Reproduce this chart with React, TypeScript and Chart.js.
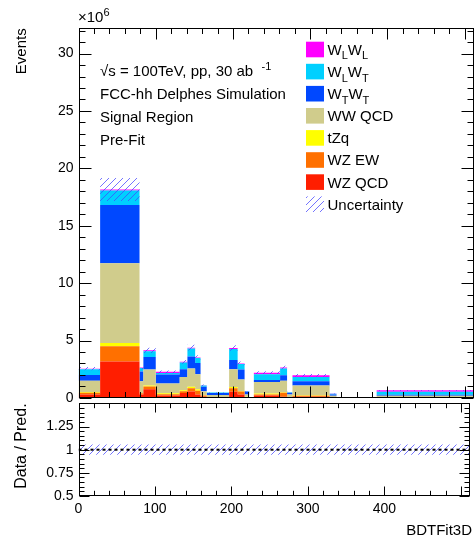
import React, { useEffect, useRef } from 'react';
import { Chart, registerables } from 'chart.js';

Chart.register(...registerables);

const FONT = "'Liberation Sans', Arial, Helvetica, sans-serif";

// ---------------- data (events in units of 10^6) ----------------
const binEdges = [0, 28, 79, 84, 100, 131, 141, 151, 158, 166, 195, 206, 215, 221, 227, 261, 270, 277, 325, 334, 386, 512];
const wzQCD = [0.30, 3.17, 0.30, 0.75, 0.20, 0.42, 0.55, 0.30, 0.10, 0.02, 0.54, 0.30, 0.04, 0.00, 0.20, 0.10, 0.03, 0.10, 0.01, 0.00, 0.00];
const wzEW = [0.14, 1.33, 0.10, 0.25, 0.12, 0.15, 0.30, 0.33, 0.10, 0.02, 0.30, 0.25, 0.04, 0.00, 0.10, 0.35, 0.03, 0.08, 0.01, 0.00, 0.01];
const tZq = [0.08, 0.28, 0.03, 0.08, 0.08, 0.10, 0.12, 0.12, 0.03, 0.01, 0.11, 0.05, 0.02, 0.00, 0.08, 0.05, 0.01, 0.05, 0.01, 0.02, 0.04];
const wwQCD = [0.98, 6.95, 1.02, 1.39, 0.85, 1.16, 1.60, 1.30, 0.35, 0.20, 1.55, 1.00, 0.20, 0.00, 1.00, 1.00, 0.23, 0.85, 0.15, 0.03, 0.13];
const wTwT = [0.50, 5.07, 0.85, 1.10, 0.78, 0.67, 1.03, 1.00, 0.39, 0.17, 0.80, 0.87, 0.26, 0.00, 0.17, 0.48, 0.15, 0.37, 0.12, 0.00, 0.10];
const wLwT = [0.50, 1.27, 0.30, 0.50, 0.15, 0.58, 0.70, 0.42, 0.10, 0.04, 0.97, 0.48, 0.01, 0.00, 0.50, 0.58, 0.04, 0.38, 0.06, 0.00, 0.25];
const wLwL = [0.05, 0.08, 0.05, 0.08, 0.09, 0.06, 0.08, 0.06, 0.03, 0.01, 0.08, 0.05, 0.01, 0.00, 0.15, 0.09, 0.01, 0.15, 0.02, 0.00, 0.13];
// relative uncertainty of the prediction per bin
const relUnc = [0.055, 0.055, 0.055, 0.055, 0.055, 0.055, 0.055, 0.055, 0.055, 0.055, 0.055, 0.055, 0.055, 0.055, 0.055, 0.055, 0.055, 0.055, 0.055, 0.055, 0.055];

const xMin = 0;
const xMax = 512;
const yMainMax = 32.2;
const yMainTicks = [0, 5, 10, 15, 20, 25, 30];
const ratioMin = 0.5;
const ratioMax = 1.5;
const ratioTickLabels = ['0.5', '0.75', '1', '1.25'];
const xTickLabels = ['0', '100', '200', '300', '400', '500'];

const annotationLines = ['FCC-hh Delphes Simulation', 'Signal Region', 'Pre-Fit'];

type Part = { t: string; s?: 'sub' | 'sup' };

const COLORS = {
  wzQCD: '#ff1e00',
  wzEW: '#ff7000',
  tZq: '#ffff00',
  wwQCD: '#d0cc8c',
  wTwT: '#0048ff',
  wLwT: '#00d0ff',
  wLwL: '#ff00ff',
};

const stackSeries = [
  { vals: wzQCD, color: COLORS.wzQCD },
  { vals: wzEW, color: COLORS.wzEW },
  { vals: tZq, color: COLORS.tZq },
  { vals: wwQCD, color: COLORS.wwQCD },
  { vals: wTwT, color: COLORS.wTwT },
  { vals: wLwT, color: COLORS.wLwT },
  { vals: wLwL, color: COLORS.wLwL },
];

const legendEntries: { parts: Part[]; color: string | null }[] = [
  { parts: [{ t: 'W' }, { t: 'L', s: 'sub' }, { t: 'W' }, { t: 'L', s: 'sub' }], color: COLORS.wLwL },
  { parts: [{ t: 'W' }, { t: 'L', s: 'sub' }, { t: 'W' }, { t: 'T', s: 'sub' }], color: COLORS.wLwT },
  { parts: [{ t: 'W' }, { t: 'T', s: 'sub' }, { t: 'W' }, { t: 'T', s: 'sub' }], color: COLORS.wTwT },
  { parts: [{ t: 'WW QCD' }], color: COLORS.wwQCD },
  { parts: [{ t: 'tZq' }], color: COLORS.tZq },
  { parts: [{ t: 'WZ EW' }], color: COLORS.wzEW },
  { parts: [{ t: 'WZ QCD' }], color: COLORS.wzQCD },
  { parts: [{ t: 'Uncertainty' }], color: null },
];

function histPoints(vals: number[]) {
  const pts: { x: number; y: number }[] = [];
  vals.forEach((v, i) => {
    pts.push({ x: binEdges[i], y: v });
    pts.push({ x: binEdges[i + 1], y: v });
  });
  return pts;
}

function makeHatch(): CanvasPattern | string {
  const c = document.createElement('canvas');
  const s = 7;
  c.width = s;
  c.height = s;
  const g = c.getContext('2d');
  if (!g) return 'rgba(80,80,255,0.4)';
  g.strokeStyle = 'rgba(70,70,255,0.75)';
  g.lineWidth = 1;
  g.beginPath();
  g.moveTo(0, s);
  g.lineTo(s, 0);
  g.moveTo(-1, 1);
  g.lineTo(1, -1);
  g.moveTo(s - 1, s + 1);
  g.lineTo(s + 1, s - 1);
  g.stroke();
  return g.createPattern(c, 'repeat') || 'rgba(80,80,255,0.4)';
}

function richText(ctx: CanvasRenderingContext2D, parts: Part[], x: number, y: number, size: number) {
  let cx = x;
  for (const p of parts) {
    const sz = p.s ? Math.round(size * 0.72) : size;
    const dy = p.s === 'sub' ? size * 0.3 : p.s === 'sup' ? -size * 0.42 : 0;
    ctx.font = `${sz}px ${FONT}`;
    ctx.fillText(p.t, cx, y + dy);
    cx += ctx.measureText(p.t).width;
  }
}

function line(ctx: CanvasRenderingContext2D, x1: number, y1: number, x2: number, y2: number) {
  ctx.beginPath();
  ctx.moveTo(x1, y1);
  ctx.lineTo(x2, y2);
  ctx.stroke();
}

export default function App() {
  const mainRef = useRef<HTMLCanvasElement>(null);
  const ratioRef = useRef<HTMLCanvasElement>(null);

  useEffect(() => {
    if (!mainRef.current || !ratioRef.current) return;
    Chart.defaults.font.family = FONT;
    Chart.defaults.color = '#000';
    const hatch = makeHatch();

    // cumulative stacks
    let run = binEdges.slice(1).map(() => 0);
    const stackDatasets: any[] = stackSeries.map((s, k) => {
      run = run.map((r, i) => r + s.vals[i]);
      return {
        data: histPoints(run),
        fill: k === 0 ? 'origin' : '-1',
        backgroundColor: s.color,
        borderColor: s.color,
        borderWidth: 0,
        pointRadius: 0,
        tension: 0,
        order: 2,
      };
    });
    const total = run;
    const uncLow = total.map((t, i) => t * (1 - relUnc[i]));
    const uncHigh = total.map((t, i) => t * (1 + relUnc[i]));

    const mainDecor = {
      id: 'mainDecor',
      afterDraw(chart: any) {
        const ctx: CanvasRenderingContext2D = chart.ctx;
        const a = chart.chartArea;
        const xs = chart.scales.x;
        const ys = chart.scales.y;
        ctx.save();
        ctx.strokeStyle = '#000';
        ctx.lineWidth = 1;
        const L = Math.round(a.left) + 0.5;
        const R = Math.round(a.right) - 0.5;
        const T = Math.round(a.top) + 0.5;
        const B = Math.round(a.bottom) - 0.5;
        ctx.strokeRect(L, T, R - L, B - T);
        for (let v = 0; v <= 32; v++) {
          const len = v % 5 === 0 ? 12 : 6;
          const y = Math.round(ys.getPixelForValue(v)) + 0.5;
          line(ctx, L, y, L + len, y);
          line(ctx, R, y, R - len, y);
        }
        for (let v = 0; v <= 500; v += 20) {
          const len = v % 100 === 0 ? 11 : 5.5;
          const x = Math.round(xs.getPixelForValue(v)) + 0.5;
          line(ctx, x, B, x, B - len);
          line(ctx, x, T, x, T + len);
        }
        // x10^6
        ctx.fillStyle = '#000';
        ctx.textAlign = 'left';
        ctx.textBaseline = 'alphabetic';
        richText(ctx, [{ t: '×10' }, { t: '6', s: 'sup' }], 78, 22, 15);
        // Events
        ctx.save();
        ctx.translate(26, a.top);
        ctx.rotate(-Math.PI / 2);
        ctx.textAlign = 'right';
        ctx.font = `15px ${FONT}`;
        ctx.fillText('Events', 0, 0);
        ctx.restore();
        // annotations
        ctx.textAlign = 'left';
        richText(ctx, [{ t: '√s = 100TeV, pp, 30 ab  ' }, { t: '-1', s: 'sup' }], 100, 76, 15);
        annotationLines.forEach((txt, i) => {
          ctx.font = `15px ${FONT}`;
          ctx.fillText(txt, 100, 99 + i * 23);
        });
        // legend
        legendEntries.forEach((e, i) => {
          const yc = 49.5 + i * 22.1;
          ctx.fillStyle = e.color ? e.color : (hatch as any);
          ctx.fillRect(306, yc - 7.8, 18, 15.6);
          ctx.fillStyle = '#000';
          richText(ctx, e.parts, 327.5, yc + 5.4, 15);
        });
        ctx.restore();
      },
    };

    const mainChart = new Chart(mainRef.current, {
      type: 'line',
      data: {
        datasets: [
          ...stackDatasets,
          {
            data: histPoints(uncLow),
            fill: false,
            borderWidth: 0,
            pointRadius: 0,
            order: 1,
          },
          {
            data: histPoints(uncHigh),
            fill: '-1',
            backgroundColor: hatch as any,
            borderWidth: 0,
            pointRadius: 0,
            order: 1,
          },
        ],
      },
      options: {
        animation: false,
        responsive: false,
        maintainAspectRatio: false,
        events: [],
        layout: { padding: { top: 28.3, right: 1, bottom: 14.1, left: 0 } },
        plugins: { legend: { display: false }, tooltip: { enabled: false } },
        scales: {
          x: { type: 'linear', min: xMin, max: xMax, display: false },
          y: {
            type: 'linear',
            min: 0,
            max: yMainMax,
            afterFit: (s: any) => {
              s.width = 78.5;
            },
            grid: { display: false, drawTicks: false },
            border: { display: false },
            ticks: {
              stepSize: 5,
              autoSkip: false,
              padding: 5,
              color: '#000',
              font: { size: 14, family: FONT },
              callback: (v: any) => (yMainTicks.includes(Number(v)) ? String(v) : ''),
            },
          },
        },
      } as any,
      plugins: [mainDecor],
    });

    const ratioLow = relUnc.map((u) => 1 - u);
    const ratioHigh = relUnc.map((u) => 1 + u);

    const ratioDecor = {
      id: 'ratioDecor',
      afterDraw(chart: any) {
        const ctx: CanvasRenderingContext2D = chart.ctx;
        const a = chart.chartArea;
        const xs = chart.scales.x;
        const ys = chart.scales.y;
        ctx.save();
        ctx.strokeStyle = '#000';
        ctx.lineWidth = 1;
        const L = Math.round(a.left) + 0.5;
        const R = Math.round(a.right) - 0.5;
        const T = Math.round(a.top) + 0.5;
        const B = Math.round(a.bottom) - 0.5;
        ctx.strokeRect(L, T, R - L, B - T);
        for (let k = 0; k <= 20; k++) {
          const v = ratioMin + k * 0.05;
          const len = k % 5 === 0 ? 10 : 5;
          const y = Math.round(ys.getPixelForValue(v)) + 0.5;
          line(ctx, L, y, L + len, y);
          line(ctx, R, y, R - len, y);
        }
        for (let v = 0; v <= 500; v += 20) {
          const len = v % 100 === 0 ? 9 : 4.7;
          const x = Math.round(xs.getPixelForValue(v)) + 0.5;
          line(ctx, x, B, x, B - len);
          line(ctx, x, T, x, T + len);
        }
        ctx.fillStyle = '#000';
        ctx.save();
        ctx.translate(26, a.top);
        ctx.rotate(-Math.PI / 2);
        ctx.textAlign = 'right';
        ctx.font = `16px ${FONT}`;
        ctx.fillText('Data / Pred.', 0, 0);
        ctx.restore();
        ctx.textAlign = 'right';
        ctx.font = `15px ${FONT}`;
        ctx.fillText('BDTFit3D', 472, 145);
        ctx.restore();
      },
    };

    const ratioChart = new Chart(ratioRef.current, {
      type: 'line',
      data: {
        datasets: [
          {
            data: [
              { x: xMin, y: 1 },
              { x: xMax, y: 1 },
            ],
            borderColor: '#000',
            borderWidth: 2,
            borderDash: [3, 3],
            fill: false,
            pointRadius: 0,
            order: 0,
          },
          {
            data: histPoints(ratioLow),
            fill: false,
            borderWidth: 0,
            pointRadius: 0,
            order: 1,
          },
          {
            data: histPoints(ratioHigh),
            fill: '-1',
            backgroundColor: hatch as any,
            borderWidth: 0,
            pointRadius: 0,
            order: 1,
          },
        ],
      },
      options: {
        animation: false,
        responsive: false,
        maintainAspectRatio: false,
        events: [],
        layout: { padding: { top: 8, right: 1, bottom: 0, left: 0 } },
        plugins: { legend: { display: false }, tooltip: { enabled: false } },
        scales: {
          x: {
            type: 'linear',
            min: xMin,
            max: xMax,
            afterFit: (s: any) => {
              s.height = 47;
            },
            grid: { display: false, drawTicks: false },
            border: { display: false },
            ticks: {
              stepSize: 100,
              autoSkip: false,
              maxRotation: 0,
              padding: 5,
              color: '#000',
              font: { size: 14, family: FONT },
              callback: (v: any) => (xTickLabels.includes(String(v)) ? String(v) : ''),
            },
          },
          y: {
            type: 'linear',
            min: ratioMin,
            max: ratioMax,
            afterFit: (s: any) => {
              s.width = 78.5;
            },
            grid: { display: false, drawTicks: false },
            border: { display: false },
            ticks: {
              stepSize: 0.25,
              autoSkip: false,
              padding: 5,
              color: '#000',
              font: { size: 14, family: FONT },
              callback: (v: any) => (ratioTickLabels.includes(String(v)) ? String(v) : ''),
            },
          },
        },
      } as any,
      plugins: [ratioDecor],
    });

    return () => {
      mainChart.destroy();
      ratioChart.destroy();
    };
  }, []);

  return (
    <div style={{ position: 'absolute', left: 0, top: 0, width: 475, height: 543, background: '#fff' }}>
      <canvas
        ref={mainRef}
        width={475}
        height={412}
        style={{ position: 'absolute', left: 0, top: 0, width: 475, height: 412 }}
      />
      <canvas
        ref={ratioRef}
        width={475}
        height={153}
        style={{ position: 'absolute', left: 0, top: 390, width: 475, height: 153 }}
      />
    </div>
  );
}
